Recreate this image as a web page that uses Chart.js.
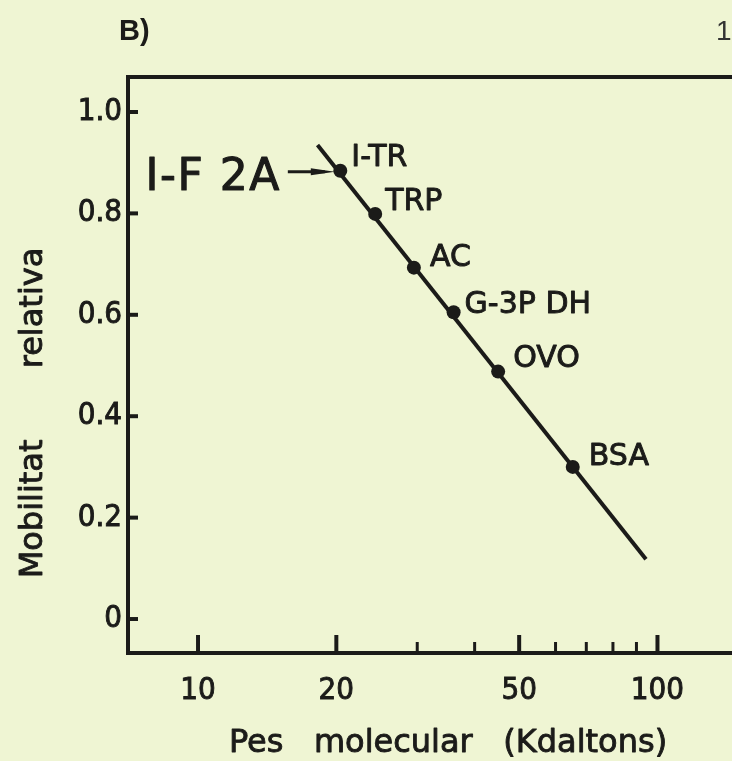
<!DOCTYPE html>
<html>
<head>
<meta charset="utf-8">
<script src="https://cdn.jsdelivr.net/npm/chart.js@4/dist/chart.umd.min.js"></script>
<style>
  html, body { margin: 0; padding: 0; background: #eff5d3; overflow: hidden; }
  #wrap { width: 732px; height: 761px; overflow: hidden; position: relative; }
  canvas { display: block; }
</style>
</head>
<body>
<div id="wrap"><canvas id="c" width="760" height="761"></canvas></div>
<script>
// Calibration proteins: molecular weight (kDa) against relative mobility
const proteins   = ['I-TR', 'TRP', 'AC', 'G-3P DH', 'OVO', 'BSA'];
const molWeights = [20.4, 24.3, 29.5, 36, 45, 65.4];
const mobility   = [0.884, 0.799, 0.693, 0.605, 0.488, 0.300];

// Calibration line drawn through the standards
const fitWeights  = [18.2, 94.4];
const fitMobility = [0.935, 0.118];

// Unknown sample
const unknownName     = 'I-F 2A';
const unknownMobility = 0.882;

// Axis ticks
const xTicks      = [10, 20, 30, 40, 50, 60, 70, 80, 90, 100];
const xTickLabels = ['10', '20', '', '', '50', '', '', '', '', '100'];
const yTicks      = [0, 0.2, 0.4, 0.6, 0.8, 1.0];
const yTickLabels = ['0', '0.2', '0.4', '0.6', '0.8', '1.0'];

const xTitle = 'Pes   molecular   (Kdaltons)';
const yTitle = 'Mobilitat       relativa';
const panelTag = 'B)';
const nextTag = '1';

const INK = '#1b1b19';
const LABEL_FONT = '30px "DejaVu Sans"';
const TICK_FONT = { family: '"DejaVu Sans Condensed", "DejaVu Sans"', size: 31 };

// label placement next to each standard (dx, baseline dy)
const labelOffsets = [[11, -5], [10, -4], [16, -2], [11, 1], [15, -5], [16, -2]];

// filled text with a thin outline, for the heavier stencil lettering
function inkText(ctx, text, x, y, w) {
  ctx.lineWidth = w;
  ctx.lineJoin = 'round';
  ctx.strokeText(text, x, y);
  ctx.fillText(text, x, y);
}

const decorations = {
  id: 'decorations',
  afterDraw(chart) {
    const { ctx, chartArea: a, scales: { x, y } } = chart;
    ctx.save();
    ctx.strokeStyle = INK;
    ctx.fillStyle = INK;
    ctx.lineCap = 'butt';

    // top edge of the frame
    ctx.lineWidth = 4;
    ctx.beginPath();
    ctx.moveTo(a.left - 2, a.top);
    ctx.lineTo(a.right, a.top);
    ctx.stroke();

    // inward tick marks on the log axis
    xTicks.forEach((v, i) => {
      const px = x.getPixelForValue(v);
      const major = xTickLabels[i] !== '';
      ctx.lineWidth = major ? 4 : 3;
      ctx.beginPath();
      ctx.moveTo(px, a.bottom);
      ctx.lineTo(px, a.bottom - (major ? 18 : 11));
      ctx.stroke();
    });
    // inward tick marks on the mobility axis
    ctx.lineWidth = 4;
    yTicks.forEach(v => {
      const py = y.getPixelForValue(v);
      ctx.beginPath();
      ctx.moveTo(a.left, py);
      ctx.lineTo(a.left + 10, py);
      ctx.stroke();
    });

    // names of the standards
    const pts = chart.getDatasetMeta(1).data;
    ctx.font = LABEL_FONT;
    ctx.textBaseline = 'alphabetic';
    ctx.textAlign = 'left';
    pts.forEach((p, i) => {
      const [dx, dy] = labelOffsets[i];
      inkText(ctx, proteins[i], p.x + dx, p.y + dy, 0.9);
    });

    // arrow from the unknown sample to the calibration line
    const line = chart.getDatasetMeta(0).data;
    const yA = y.getPixelForValue(unknownMobility);
    const p0 = line[0], p1 = line[1];
    const xLine = p0.x + (yA - p0.y) * (p1.x - p0.x) / (p1.y - p0.y);
    const tip = xLine - 4;
    const start = tip - 47;
    ctx.lineWidth = 3;
    ctx.beginPath();
    ctx.moveTo(start, yA);
    ctx.lineTo(tip - 10, yA);
    ctx.stroke();
    ctx.beginPath();
    ctx.moveTo(tip, yA);
    ctx.lineTo(tip - 24, yA - 3.5);
    ctx.lineTo(tip - 24, yA + 3.5);
    ctx.closePath();
    ctx.fill();
    ctx.font = '44px "DejaVu Sans"';
    ctx.textAlign = 'right';
    ctx.letterSpacing = '1.5px';
    inkText(ctx, unknownName, start - 7, yA + 18, 1.1);
    ctx.letterSpacing = '0px';

    // axis titles
    ctx.font = '32px "DejaVu Sans"';
    ctx.textAlign = 'center';
    inkText(ctx, xTitle, 448, 752, 0.9);
    ctx.save();
    ctx.translate(42, 413);
    ctx.rotate(-Math.PI / 2);
    ctx.font = '32px "DejaVu Sans"';
    inkText(ctx, yTitle, 0, 0, 0.9);
    ctx.restore();

    // panel tags
    ctx.textAlign = 'left';
    ctx.font = 'bold 29px "Liberation Sans"';
    ctx.fillText(panelTag, 119, 40);
    ctx.font = '28px "Liberation Sans"';
    ctx.fillStyle = '#333';
    ctx.fillText(nextTag, 716, 40);
    ctx.restore();
  }
};

new Chart(document.getElementById('c'), {
  type: 'scatter',
  data: {
    datasets: [
      {
        data: fitWeights.map((w, i) => ({ x: w, y: fitMobility[i] })),
        showLine: true,
        borderColor: INK,
        borderWidth: 4,
        pointRadius: 0,
        fill: false
      },
      {
        data: molWeights.map((w, i) => ({ x: w, y: mobility[i] })),
        showLine: false,
        pointRadius: 7,
        pointBackgroundColor: INK,
        pointBorderColor: INK,
        pointBorderWidth: 0
      }
    ]
  },
  options: {
    responsive: false,
    animation: false,
    events: [],
    layout: { padding: { top: 77, right: 10, left: 0, bottom: 0 } },
    plugins: { legend: { display: false }, tooltip: { enabled: false } },
    scales: {
      x: {
        type: 'logarithmic',
        min: 7.04,
        max: 159,
        afterFit: s => { s.height = 108; },
        afterBuildTicks: s => { s.ticks = xTicks.map(v => ({ value: v })); },
        grid: { display: false, drawTicks: false },
        border: { display: true, color: INK, width: 4 },
        ticks: {
          autoSkip: false,
          maxRotation: 0,
          padding: 22,
          color: INK,
          textStrokeColor: INK,
          textStrokeWidth: 0.9,
          font: { ...TICK_FONT, lineHeight: 1 },
          callback: v => xTickLabels[xTicks.indexOf(v)] ?? ''
        }
      },
      y: {
        min: -0.067,
        max: 1.069,
        afterFit: s => { s.width = 128; },
        afterBuildTicks: s => { s.ticks = yTicks.map(v => ({ value: v })); },
        grid: { display: false, drawTicks: false },
        border: { display: true, color: INK, width: 4 },
        ticks: {
          padding: 6,
          color: INK,
          textStrokeColor: INK,
          textStrokeWidth: 0.9,
          font: { ...TICK_FONT, lineHeight: 1 },
          callback: v => {
            const i = yTicks.findIndex(t => Math.abs(t - v) < 1e-9);
            return i >= 0 ? yTickLabels[i] : '';
          }
        }
      }
    }
  },
  plugins: [decorations]
});
</script>
</body>
</html>
